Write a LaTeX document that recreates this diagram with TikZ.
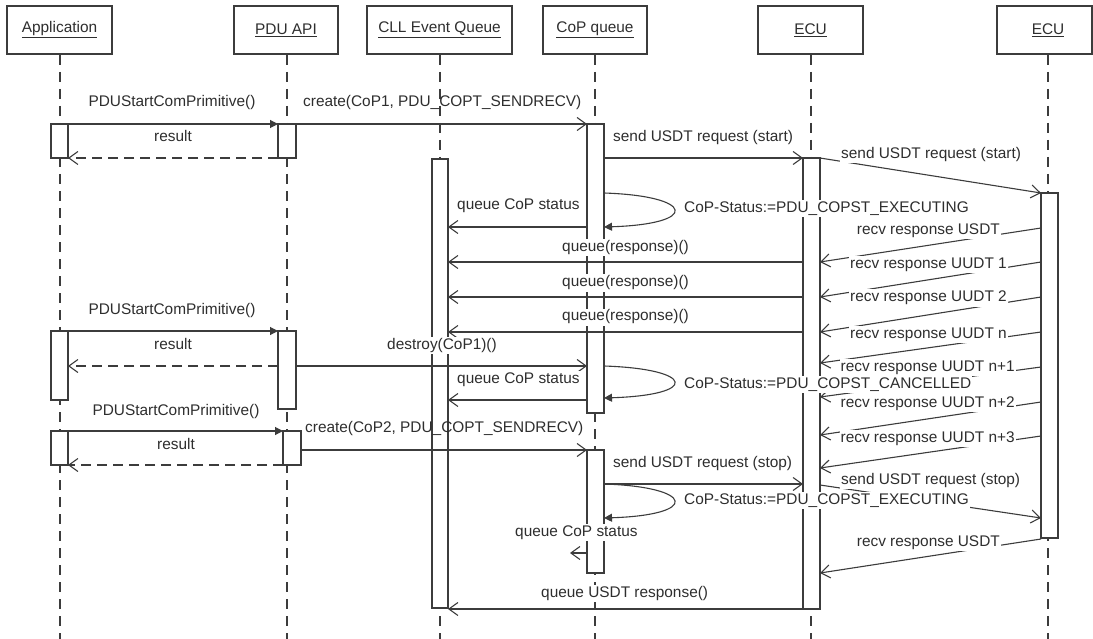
\documentclass[tikz,border=0pt]{standalone}
\usepackage{fontspec}
\setmainfont{Liberation Sans}
\usetikzlibrary{arrows.meta}
\definecolor{ink}{HTML}{2E2E2E}
\definecolor{rule}{HTML}{3C3C3C}
\begin{document}
\begin{tikzpicture}[x=1bp,y=-1bp,
  every node/.style={font=\fontsize{15.4bp}{18bp}\selectfont, text=ink},
  headbox/.style={draw=rule, line width=1.4bp, fill=white, minimum height=48bp, inner sep=0pt},
  lifeline/.style={draw=rule, line width=1.1bp, dash pattern=on 10bp off 7bp},
  act/.style={draw=rule, line width=1.1bp, fill=white},
  msg/.style={draw=rule, line width=1.1bp, -{Straight Barb[length=9bp,width=13bp]}},
  reply/.style={msg, dash pattern=on 10bp off 6bp},
  callmsg/.style={draw=rule, line width=1.1bp, -{Triangle[length=8bp,width=8bp]}},
  lbl/.style={inner sep=1bp, text height=11.5bp, text depth=3.5bp},
  lblw/.style={lbl, fill=white}]
\useasboundingbox (0,0) rectangle (1093,639);
\fill[white] (0,0) rectangle (1093,639);

% lifeline heads
\node[headbox, minimum width=105bp] (hApp) at (59.5,30) {\underline{Application}};
\node[headbox, minimum width=104bp] (hPdu) at (286,30) {\underline{PDU API}};
\node[headbox, minimum width=145bp] (hCll) at (439.5,30) {\underline{CLL Event Queue}};
\node[headbox, minimum width=104bp] (hCop) at (595,30) {\underline{CoP queue}};
\node[headbox, minimum width=105bp] (hEcu) at (810.5,30) {\underline{ECU}};
\node[headbox, minimum width=95bp] (hEcuB) at (1044.5,30) {};
\node (tEcuB) at (1048,30) {\underline{ECU}};

% lifelines
\coordinate (tA) at (60,55);    \coordinate (bA) at (60,639);
\coordinate (tP) at (287,55);   \coordinate (bP) at (287,639);
\coordinate (tL) at (440,55);   \coordinate (bL) at (440,639);
\coordinate (tC) at (595,55);   \coordinate (bC) at (595,639);
\coordinate (tE) at (811,55);   \coordinate (bE) at (811,639);
\coordinate (tF) at (1048,55);  \coordinate (bF) at (1048,639);
\foreach \t/\b in {tA/bA,tP/bP,tL/bL,tC/bC,tE/bE,tF/bF}
  \draw[lifeline] (\t) -- (\b);

% activation bars
\draw[act] (51,124) rectangle (68,158);
\draw[act] (51,331) rectangle (68,400);
\draw[act] (51,431) rectangle (68,465);
\draw[act] (278,124) rectangle (296,158);
\draw[act] (278,331) rectangle (296,409);
\draw[act] (283,431) rectangle (301,465);
\draw[act] (432,159) rectangle (448,608);
\draw[act] (587,124) rectangle (604,413);
\draw[act] (587,450) rectangle (604,573);
\draw[act] (803,158) rectangle (820,609);
\draw[act] (1041,193) rectangle (1058,538);

% message end points
\coordinate (m1a) at (68,124);   \coordinate (m1b) at (278,124);
\coordinate (m2a) at (296,124);  \coordinate (m2b) at (587,124);
\coordinate (m3a) at (278,158);  \coordinate (m3b) at (68,158);
\coordinate (m4a) at (604,158);  \coordinate (m4b) at (803,158);
\coordinate (m5a) at (820,158);  \coordinate (m5b) at (1041,193);
\coordinate (m6a) at (604,193);  \coordinate (m6b) at (604,227);
\coordinate (m7a) at (587,227);  \coordinate (m7b) at (448,227);
\coordinate (m8a) at (1041,228); \coordinate (m8b) at (820,262);
\coordinate (m9a) at (803,262);  \coordinate (m9b) at (448,262);
\coordinate (m10a) at (1041,262); \coordinate (m10b) at (820,297);
\coordinate (m11a) at (803,297);  \coordinate (m11b) at (448,297);
\coordinate (m12a) at (1041,297); \coordinate (m12b) at (820,332);
\coordinate (m13a) at (803,332);  \coordinate (m13b) at (448,332);
\coordinate (m14a) at (1041,332); \coordinate (m14b) at (820,363);
\coordinate (m15a) at (68,331);   \coordinate (m15b) at (278,331);
\coordinate (m16a) at (278,366);  \coordinate (m16b) at (68,366);
\coordinate (m17a) at (296,366);  \coordinate (m17b) at (587,366);
\coordinate (m18a) at (1041,367); \coordinate (m18b) at (820,397);
\coordinate (m19a) at (604,366);  \coordinate (m19b) at (604,398);
\coordinate (m20a) at (587,400);  \coordinate (m20b) at (448,400);
\coordinate (m21a) at (1041,402); \coordinate (m21b) at (820,435);
\coordinate (m22a) at (68,431);   \coordinate (m22b) at (283,431);
\coordinate (m23a) at (1041,436); \coordinate (m23b) at (820,468);
\coordinate (m24a) at (301,450);  \coordinate (m24b) at (587,450);
\coordinate (m25a) at (283,465);  \coordinate (m25b) at (68,465);
\coordinate (m26a) at (604,484);  \coordinate (m26b) at (803,484);
\coordinate (m27a) at (820,485);  \coordinate (m27b) at (1041,518);
\coordinate (m28a) at (604,484);  \coordinate (m28b) at (604,518);
\coordinate (m29a) at (587,553);  \coordinate (m29b) at (570,553);
\coordinate (m30a) at (1041,539); \coordinate (m30b) at (820,573);
\coordinate (m31a) at (803,609);  \coordinate (m31b) at (448,609);

% messages
\draw[callmsg] (m1a) -- (m1b);
\draw[msg] (m2a) -- (m2b);
\draw[reply] (m3a) -- (m3b);
\draw[msg] (m4a) -- (m4b);
\draw[msg] (m5a) -- (m5b);
\draw[callmsg] (m6a) .. controls +(91,3) and +(96,-3) .. (m6b);
\draw[msg] (m7a) -- (m7b);
\draw[msg] (m8a) -- (m8b);
\draw[msg] (m9a) -- (m9b);
\draw[msg] (m10a) -- (m10b);
\draw[msg] (m11a) -- (m11b);
\draw[msg] (m12a) -- (m12b);
\draw[msg] (m13a) -- (m13b);
\draw[msg] (m14a) -- (m14b);
\draw[callmsg] (m15a) -- (m15b);
\draw[reply] (m16a) -- (m16b);
\draw[msg] (m17a) -- (m17b);
\draw[msg] (m18a) -- (m18b);
\draw[callmsg] (m19a) .. controls +(91,3) and +(96,-3) .. (m19b);
\draw[msg] (m20a) -- (m20b);
\draw[msg] (m21a) -- (m21b);
\draw[callmsg] (m22a) -- (m22b);
\draw[msg] (m23a) -- (m23b);
\draw[msg] (m24a) -- (m24b);
\draw[reply] (m25a) -- (m25b);
\draw[msg] (m26a) -- (m26b);
\draw[msg] (m27a) -- (m27b);
\draw[callmsg] (m28a) .. controls +(91,3) and +(96,-3) .. (m28b);
\draw[msg] (m29a) -- (m29b);
\draw[msg] (m30a) -- (m30b);
\draw[msg] (m31a) -- (m31b);

% message labels
\node[lbl] (l1) at (172,103) {PDUStartComPrimitive()};
\node[lbl, anchor=west] (l2) at (302,103) {create(CoP1, PDU\_COPT\_SENDRECV)};
\node[lbl] (l3) at (173,138) {result};
\node[lblw, anchor=west] (l4) at (612,138) {send USDT request (start)};
\node[lblw, anchor=west] (l5) at (840,155) {send USDT request (start)};
\node[lblw, anchor=west] (l6) at (456,206) {queue CoP status};
\node[lblw, anchor=west] (l7) at (683,209) {CoP-Status:=PDU\_COPST\_EXECUTING};
\node[lblw, anchor=east] (l8) at (1001,231) {recv response USDT};
\node[lblw, anchor=west] (l9) at (561,248) {queue(response)()};
\node[lblw, anchor=east] (l10) at (1008,265) {recv response UUDT 1};
\node[lblw, anchor=west] (l11) at (561,283) {queue(response)()};
\node[lblw, anchor=east] (l12) at (1008,298) {recv response UUDT 2};
\node[lblw, anchor=west] (l13) at (561,317) {queue(response)()};
\node[lblw, anchor=east] (l14) at (1008,334) {recv response UUDT n};
\node[lbl] (l15) at (172,311) {PDUStartComPrimitive()};
\node[lbl] (l16) at (173,345) {result};
\node[lblw, anchor=west] (l17) at (386,345) {destroy(CoP1)()};
\node[lblw, anchor=east] (l18) at (1016,367) {recv response UUDT n+1};
\node[lblw, anchor=west] (l19) at (456,379) {queue CoP status};
\node[lblw, anchor=west] (l20) at (683,384) {CoP-Status:=PDU\_COPST\_CANCELLED};
\node[lblw, anchor=east] (l21) at (1016,403) {recv response UUDT n+2};
\node[lbl] (l22) at (176,411) {PDUStartComPrimitive()};
\node[lbl, anchor=west] (l23) at (304,428) {create(CoP2, PDU\_COPT\_SENDRECV)};
\node[lblw, anchor=east] (l24) at (1016,438) {recv response UUDT n+3};
\node[lbl] (l25) at (176,445) {result};
\node[lblw, anchor=west] (l26) at (612,463) {send USDT request (stop)};
\node[lblw, anchor=west] (l27) at (840,480) {send USDT request (stop)};
\node[lblw, anchor=west] (l28) at (683,500) {CoP-Status:=PDU\_COPST\_EXECUTING};
\node[lblw, anchor=west] (l29) at (514,532) {queue CoP status};
\node[lblw, anchor=east] (l30) at (1001,542) {recv response USDT};
\node[lblw, anchor=west] (l31) at (540,593) {queue USDT response()};
\end{tikzpicture}
\end{document}
